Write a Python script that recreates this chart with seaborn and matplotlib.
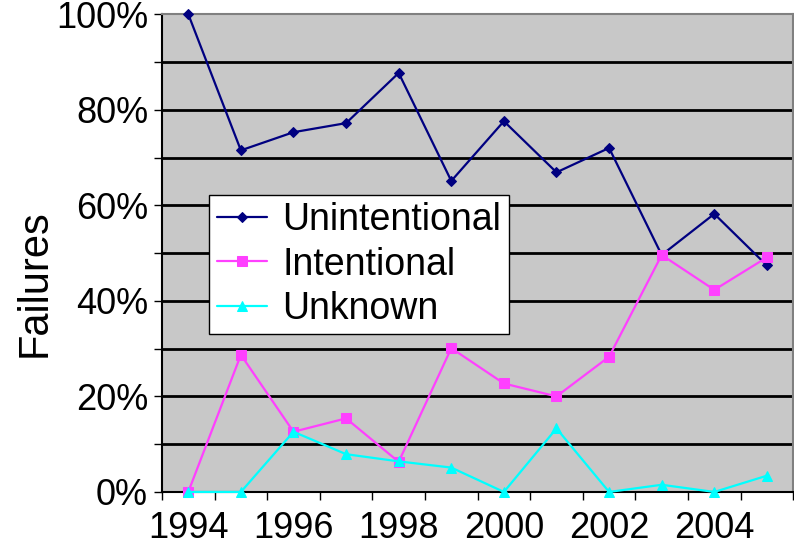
import pandas as pd
import matplotlib.pyplot as plt
import seaborn as sns
from matplotlib.ticker import MultipleLocator, FixedLocator

# Values (percent of failures per year)
years = [1994, 1995, 1996, 1997, 1998, 1999, 2000, 2001, 2002, 2003, 2004, 2005]
unintentional = [100, 71.5, 75.3, 77.2, 87.7, 65.1, 77.6, 66.9, 72.0, 49.6, 58.2, 47.4]
intentional = [0, 28.7, 12.6, 15.4, 6.3, 30.1, 22.7, 20.0, 28.3, 49.6, 42.3, 49.1]
unknown = [0, 0, 12.6, 7.9, 6.4, 5.1, 0, 13.3, 0, 1.5, 0, 3.4]
year_labels = ['1994', '1996', '1998', '2000', '2002', '2004']

series_names = ['Unintentional', 'Intentional', 'Unknown']
colors = ['#000080', '#FF40FF', '#00FFFF']
markers = ['D', 's', '^']
msizes = [5, 7, 7]

df = pd.DataFrame({'Year': years * 3,
                   'Share': unintentional + intentional + unknown,
                   'Type': [n for n in series_names for _ in years]})

sns.set_style('white')
plt.rcParams['font.family'] = ['Liberation Sans', 'DejaVu Sans']
plt.rcParams['text.color'] = 'black'
plt.rcParams['xtick.color'] = 'black'
plt.rcParams['ytick.color'] = 'black'
plt.rcParams['axes.labelcolor'] = 'black'

fig = plt.figure(figsize=(7.94, 5.46), dpi=100)
ax = fig.add_axes([0.204, 0.099, 0.795, 0.875])
ax.set_facecolor('#C8C8C8')

for name, c, m, ms in zip(series_names, colors, markers, msizes):
    sns.lineplot(data=df[df['Type'] == name], x='Year', y='Share', ax=ax,
                 color=c, marker=m, markersize=ms, markeredgecolor=c,
                 linewidth=1.6, label=name, clip_on=False, zorder=3)

ax.set_xlim(1993.5, 2005.5)
ax.set_ylim(0, 100)

# horizontal grid every 10%
for v in range(10, 100, 10):
    ax.axhline(v, color='black', linewidth=2, zorder=0.5)

ax.yaxis.set_major_locator(MultipleLocator(20))
ax.yaxis.set_minor_locator(MultipleLocator(10))
ax.set_yticklabels([f'{int(v)}%' for v in ax.get_yticks()])
ax.tick_params(axis='y', which='both', direction='out', length=6, width=1,
               color='black', labelsize=26, pad=4, left=True)

ax.xaxis.set_major_locator(FixedLocator([int(y) for y in year_labels]))
ax.set_xticklabels(year_labels)
ax.xaxis.set_minor_locator(FixedLocator([y - 0.5 for y in years] + [2005.5]))
ax.tick_params(axis='x', which='major', length=0, labelsize=26, pad=14)
ax.tick_params(axis='x', which='minor', direction='out', length=6, width=1,
               color='black', bottom=True)

ax.set_xlabel('')
ax.set_ylabel('Failures', fontsize=30)
ax.yaxis.set_label_coords(-0.17, 0.437)

for s in ['left', 'bottom']:
    ax.spines[s].set_color('black')
    ax.spines[s].set_linewidth(1.5)
for s in ['top', 'right']:
    ax.spines[s].set_color('#808080')
    ax.spines[s].set_linewidth(1.5)

leg = ax.legend(loc='lower left', bbox_to_anchor=(0.075, 0.33), fontsize=27,
                frameon=True, fancybox=False, framealpha=1, edgecolor='black',
                borderpad=0.2, labelspacing=0.22, handlelength=1.35,
                handletextpad=0.4, borderaxespad=0)
leg.get_frame().set_linewidth(1)
leg.set_zorder(5)

fig.savefig('out.png', dpi=100)
